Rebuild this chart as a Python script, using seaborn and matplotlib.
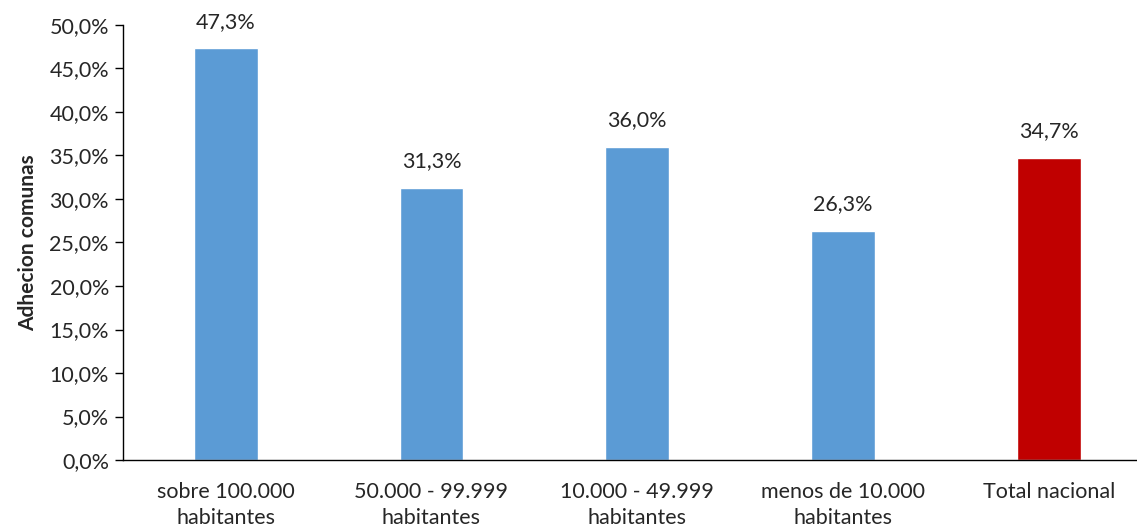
import matplotlib
matplotlib.use("Agg")
import matplotlib.pyplot as plt
import seaborn as sns
import pandas as pd
from matplotlib.ticker import FuncFormatter, MultipleLocator

categories = ["sobre 100.000\nhabitantes", "50.000 - 99.999\nhabitantes",
              "10.000 - 49.999\nhabitantes", "menos de 10.000\nhabitantes",
              "Total nacional"]
values = [47.3, 31.3, 36.0, 26.3, 34.7]
colors = ["#5B9BD5", "#5B9BD5", "#5B9BD5", "#5B9BD5", "#C00000"]

sns.set_theme(style="white")
plt.rcParams["font.family"] = ["Lato", "DejaVu Sans"]

df = pd.DataFrame({"cat": categories, "val": values})

fig = plt.figure(figsize=(11.37, 5.30), dpi=100)
ax = fig.add_axes([0.108, 0.132, 0.905, 0.821])
sns.barplot(data=df, x="cat", y="val", hue="cat", palette=colors,
            width=0.31, legend=False, ax=ax, saturation=1)

ax.set_ylim(0, 50)
ax.set_xlim(-0.5, 4.5)
ax.yaxis.set_major_locator(MultipleLocator(5))
ax.yaxis.set_major_formatter(FuncFormatter(lambda v, p: f"{v:.1f}%".replace(".", ",")))
ax.tick_params(axis="y", which="major", left=True, length=6, width=1, color="black",
               labelsize=15.5, pad=4)
ax.tick_params(axis="x", bottom=False, labelsize=15.5, pad=10)
for lbl in ax.get_xticklabels():
    lbl.set_linespacing(1.35)
ax.set_xlabel("")
ax.set_ylabel("Adhecion comunas", fontsize=15, fontweight="bold", labelpad=8)

for s in ["top", "right"]:
    ax.spines[s].set_visible(False)
for s in ["left", "bottom"]:
    ax.spines[s].set_color("black")
    ax.spines[s].set_linewidth(1)

for i, v in enumerate(values):
    ax.annotate(f"{v:.1f}%".replace(".", ","), (i, v), xytext=(0, 12),
                textcoords="offset points", ha="center", va="bottom", fontsize=15.5)

fig.savefig("out.png", dpi=100)
